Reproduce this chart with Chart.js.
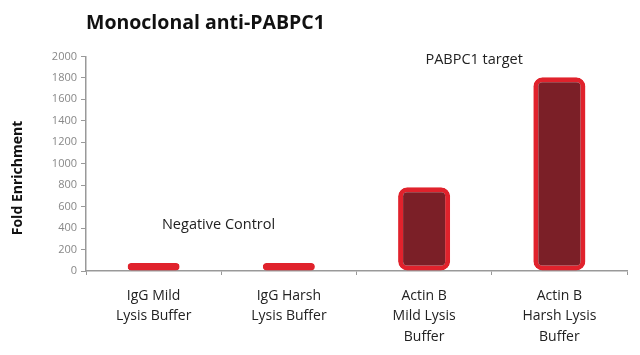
<!DOCTYPE html>
<html>
<head>
<meta charset="utf-8">
<script src="https://cdn.jsdelivr.net/npm/chart.js@4/dist/chart.umd.min.js"></script>
<style>
  html, body { margin: 0; padding: 0; background: #fff; }
  #wrap { width: 640px; height: 355px; }
</style>
</head>
<body>
<div id="wrap"><canvas id="foldChart"></canvas></div>
<script>
// data
const categories = [
  ['IgG Mild', 'Lysis Buffer'],
  ['IgG Harsh', 'Lysis Buffer'],
  ['Actin B', 'Mild Lysis', 'Buffer'],
  ['Actin B', 'Harsh Lysis', 'Buffer']
];
const foldValues = [75, 75, 780, 1805];
const yTicks = [0, 200, 400, 600, 800, 1000, 1200, 1400, 1600, 1800, 2000];
const notes = [
  { text: 'Negative Control', at: 0.48, value: 430 },
  { text: 'PABPC1 target', at: 2.37, value: 1970 }
];

const FONT = "'Open Sans', sans-serif";

// text labels placed on the scales, plus the rotated y title
const notesPlugin = {
  id: 'notes',
  afterDraw(chart) {
    const c = chart.ctx, xs = chart.scales.x, ys = chart.scales.y;
    c.save();
    c.font = '14.5px ' + FONT;
    c.fillStyle = '#222';
    c.textAlign = 'center';
    c.textBaseline = 'middle';
    notes.forEach(n => c.fillText(n.text, xs.getPixelForValue(n.at), ys.getPixelForValue(n.value)));
    c.translate(18, 178);
    c.rotate(-Math.PI / 2);
    c.font = 'bold 14px ' + FONT;
    c.fillStyle = '#111';
    c.fillText('Fold Enrichment', 0, 0);
    c.restore();
  }
};

let ctx = document.getElementById('foldChart');
new Chart(ctx, {
  type: 'bar',
  data: {
    labels: categories,
    datasets: [{
      label: 'Fold Enrichment',
      data: foldValues,
      backgroundColor: '#7b1f27',
      borderColor: '#e0222c',
      borderWidth: 5,
      borderRadius: 9,
      borderSkipped: false,
      barPercentage: 0.385,
      categoryPercentage: 1
    }]
  },
  plugins: [notesPlugin],
  options: {
    responsive: true,
    maintainAspectRatio: false,
    animation: false,
    layout: { padding: { left: 0, right: 13, top: 0, bottom: 0 } },
    plugins: {
      legend: { display: false },
      tooltip: { enabled: false },
      title: {
        display: true,
        text: 'Monoclonal anti-PABPC1',
        align: 'start',
        fullSize: false,
        color: '#111',
        font: { family: FONT, size: 19.5, weight: 'bold' },
        padding: { top: 12, bottom: 21 }
      }
    },
    scales: {
      x: {
        grid: { drawOnChartArea: false, drawTicks: true, tickLength: 4, color: '#999', offset: true },
        border: { color: '#999', width: 1.5 },
        ticks: { color: '#222', font: { family: FONT, size: 14, lineHeight: 1.45 }, padding: 11, maxRotation: 0, autoSkip: false },
        afterFit(s) { s.height = 84; }
      },
      y: {
        min: 0,
        max: 2000,
        afterBuildTicks(s) { s.ticks = yTicks.map(v => ({ value: v })); },
        grid: { drawOnChartArea: false, drawTicks: true, tickLength: 5, color: '#999' },
        border: { color: '#999', width: 1.5 },
        ticks: { color: '#888', font: { family: FONT, size: 11 }, padding: 4, callback: v => String(v) },
        afterFit(s) { s.width = 86; }
      }
    }
  }
});
</script>
</body>
</html>
